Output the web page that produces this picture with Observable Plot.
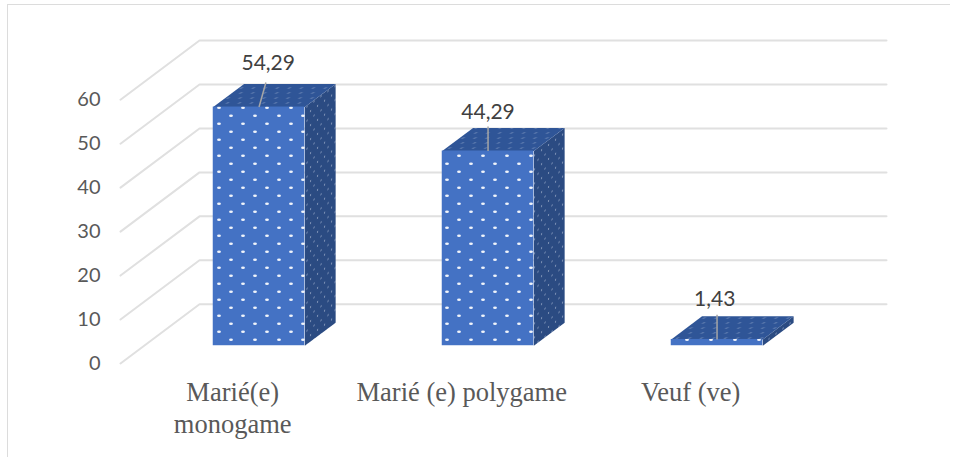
<!DOCTYPE html>
<html>
<head>
<meta charset="utf-8">
<script src="https://cdn.jsdelivr.net/npm/d3@7"></script>
<script src="https://cdn.jsdelivr.net/npm/@observablehq/plot@0.6"></script>
<style>
  html, body { margin: 0; padding: 0; background: #fff; }
  #chart { position: relative; width: 956px; height: 457px; overflow: hidden; }
  #chart svg { display: block; position: absolute; left: 0; top: 0; }
  #border { position: absolute; left: 7px; top: 4px; right: 6px; bottom: -2px;
            border-top: 1.5px solid #dcdcdc; border-left: 1.5px solid #dcdcdc; }
</style>
</head>
<body>
<div id="chart"><div id="border"></div></div>
<script>
const categories = ["Marié(e)\nmonogame", "Marié (e) polygame", "Veuf (ve)"];
const values = [54.29, 44.29, 1.43];
const valueLabels = ["54,29", "44,29", "1,43"];
const yTicks = [0, 10, 20, 30, 40, 50, 60];

// Oblique projection: depth shifts a point right (in category units) and up (in value units).
const depthX = 0.345, depthY = 13.47;
const barFront = 0.3, barBack = 0.69;
const barStart = 0.405, barWidth = 0.4;
const px = (x, v, d) => ({x: x + depthX * d, y: v + depthY * d});

const grid = yTicks.flatMap((v) => [
  {id: v, ...px(0, v, 0)}, {id: v, ...px(0, v, 1)}, {id: v, ...px(categories.length, v, 1)}
]);

const bars = values.map((v, i) => {
  const x0 = i + barStart - depthX * barFront;
  return {i, v, x0, x1: x0 + barWidth};
});
const face = (points) => points.map(([x, v, d]) => px(x, v, d));
const sides = bars.flatMap((b) => face([
  [b.x1, 0, barFront], [b.x1, 0, barBack], [b.x1, b.v, barBack], [b.x1, b.v, barFront]
]).map((p) => ({id: b.i, ...p})));
const tops = bars.flatMap((b) => face([
  [b.x0, b.v, barFront], [b.x1, b.v, barFront], [b.x1, b.v, barBack], [b.x0, b.v, barBack]
]).map((p) => ({id: b.i, ...p})));
const fronts = bars.map((b) => ({
  x1: b.x0 + depthX * barFront, x2: b.x1 + depthX * barFront,
  y1: depthY * barFront, y2: b.v + depthY * barFront
}));

// Leader and label placement relative to each bar's front-top edge.
const leaderLean = [0.03, 0, 0];
const labelLean = [0.04, 0, -0.01];
const leaderRise = 5.6;
const labelRise = [9.9, 8.9, 9.1];
const leaders = bars.map((b, i) => {
  const cx = b.x0 + depthX * barFront + barWidth / 2;
  const y = b.v + depthY * barFront;
  return {x1: cx, y1: y, x2: cx + leaderLean[i], y2: y + leaderRise};
});
const labels = bars.map((b, i) => ({
  text: valueLabels[i],
  x: b.x0 + depthX * barFront + barWidth / 2 + labelLean[i],
  y: b.v + depthY * barFront + labelRise[i]
}));

const defs = () => {
  const d = d3.create("svg:defs");
  const mk = (id, w, h, transform, fill, dots, bg, rx, ry, op) => {
    const p = d.append("pattern").attr("id", id).attr("patternUnits", "userSpaceOnUse")
      .attr("width", w).attr("height", h);
    if (transform) p.attr("patternTransform", transform);
    p.append("rect").attr("width", w).attr("height", h).attr("fill", bg);
    for (const [cx, cy] of dots)
      p.append("ellipse").attr("cx", cx).attr("cy", cy).attr("rx", rx).attr("ry", ry)
        .attr("fill", fill).attr("opacity", op);
  };
  mk("dotsFront", 24, 16, null, "#fff", [[3, 11.7], [15, 3.7]], "#4472c4", 1.9, 1.3, 0.92);
  mk("dotsTop", 24, 10, "skewX(-53)", "#b9c6de", [[3, 2.5], [15, 2.5], [9, 7.5], [21, 7.5]], "#2f5597", 1.6, 0.6, 0.45);
  mk("dotsSide", 7, 14, "skewY(-36.5)", "#c4cfe2", [[2, 4], [5.5, 11]], "#2b4b82", 0.55, 0.95, 0.6);
  return d.node();
};

const plot = Plot.plot({
  width: 956, height: 457,
  marginLeft: 120, marginRight: 70, marginTop: 40, marginBottom: 94,
  style: {background: "transparent", overflow: "visible"},
  x: {domain: [0, categories.length + depthX], axis: null},
  y: {domain: [0, 60 + depthY], axis: null},
  marks: [
    defs,
    Plot.line(grid, {x: "x", y: "y", z: "id", stroke: "#e0e0e0", strokeWidth: 2}),
    Plot.line(sides, {x: "x", y: "y", z: "id", fill: "url(#dotsSide)", stroke: "none"}),
    Plot.line(tops, {x: "x", y: "y", z: "id", fill: "url(#dotsTop)", stroke: "none"}),
    Plot.rect(fronts, {x1: "x1", x2: "x2", y1: "y1", y2: "y2", fill: "url(#dotsFront)"}),
    Plot.link(leaders, {x1: "x1", y1: "y1", x2: "x2", y2: "y2", stroke: "#a6a6a6", strokeWidth: 1.5}),
    Plot.text(labels, {x: "x", y: "y", text: "text", fontFamily: "Lato", fontSize: 21, fill: "#404040"}),
    Plot.axisY({anchor: "left", ticks: yTicks, tickSize: 0, tickPadding: 20,
      fontFamily: "Lato", fontSize: 20, fill: "#595959", label: null}),
    Plot.text(categories, {x: (d, i) => i + 0.49, y: 0, text: (d) => d, dy: 15,
      lineAnchor: "top", lineHeight: 1.21, fontFamily: "Liberation Serif", fontSize: 26.5, fill: "#595959"})
  ]
});
document.getElementById("chart").appendChild(plot);
</script>
</body>
</html>
